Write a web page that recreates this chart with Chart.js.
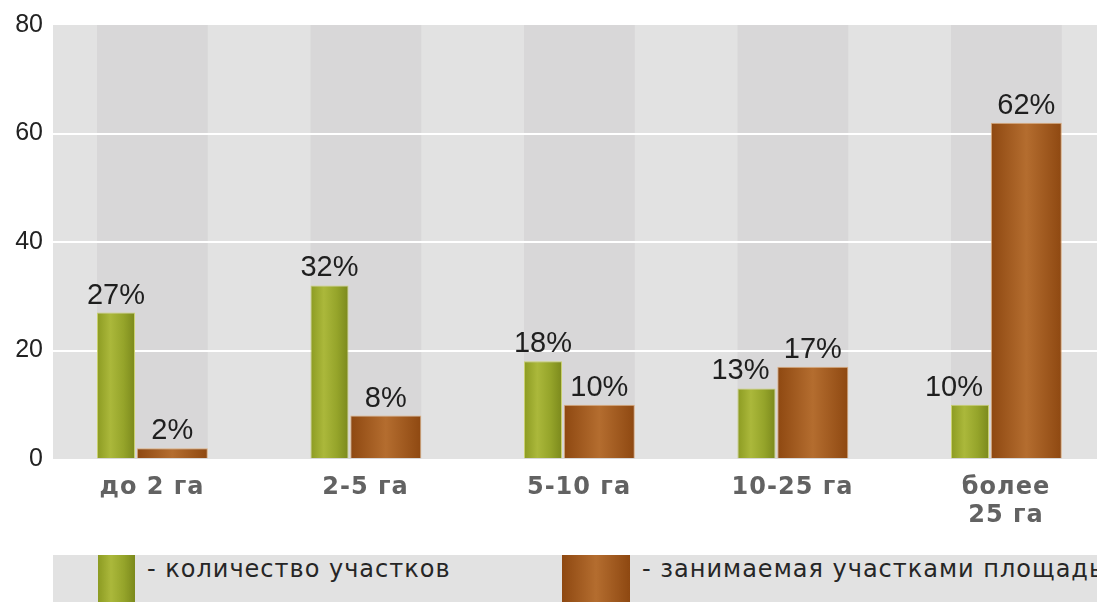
<!DOCTYPE html>
<html>
<head>
<meta charset="utf-8">
<script src="https://cdn.jsdelivr.net/npm/chart.js@4.4.1/dist/chart.umd.min.js"></script>
<style>
  html, body { margin: 0; padding: 0; background: #ffffff; overflow: hidden; }
  #wrap { position: relative; width: 1097px; height: 602px; }
  #legend { position: absolute; left: 53px; top: 555px; width: 1044px; height: 47px; background: #e2e2e2; overflow: hidden; }
  .sw { position: absolute; top: 0; height: 47px; }
  .sw.green { left: 45px; width: 37px; background: linear-gradient(to right, #8c9b22 0%, #abb83b 35%, #95a42a 70%, #7b891c 100%); }
  .sw.orange { left: 509px; width: 68px; background: linear-gradient(to right, #8e4811 0%, #b46d2f 50%, #8e4811 100%); }
  .lt { position: absolute; top: 1px; font-family: "DejaVu Sans", sans-serif; font-size: 24px; line-height: 26px; letter-spacing: 1px; color: #262626; white-space: nowrap; }
</style>
</head>
<body>
<div id="wrap">
  <canvas id="c" width="1097" height="602"></canvas>
  <div id="legend">
    <div class="sw green"></div>
    <div class="lt" id="lt0" style="left:94px"></div>
    <div class="sw orange"></div>
    <div class="lt" id="lt1" style="left:589px"></div>
  </div>
</div>
<script>
// ---- data ----
const categories = ['до 2 га', '2-5 га', '5-10 га', '10-25 га', ['более', '25 га']];
const seriesNames = ['- количество участков', '- занимаемая участками площадь'];
const plotCounts = [27, 32, 18, 13, 10];
const areaShares = [2, 8, 10, 17, 62];
const yTicks = [0, 20, 40, 60, 80];

document.getElementById('lt0').textContent = seriesNames[0];
document.getElementById('lt1').textContent = seriesNames[1];

const toPoints = arr => arr.map((v, i) => ({ x: i, y: v }));

const gradStops = [
  [[0, '#8c9b22'], [0.35, '#abb83b'], [0.7, '#95a42a'], [1, '#7b891c']],
  [[0, '#8e4811'], [0.5, '#b46d2f'], [1, '#8e4811']]
];

const bgPlugin = {
  id: 'bg',
  beforeDraw(chart) {
    const { ctx, chartArea: a } = chart;
    ctx.save();
    ctx.fillStyle = '#e2e2e2';
    ctx.fillRect(a.left, a.top, a.right - a.left, a.bottom - a.top);
    const m0 = chart.getDatasetMeta(0).data, m1 = chart.getDatasetMeta(1).data;
    ctx.fillStyle = '#d8d7d8';
    for (let i = 0; i < m0.length; i++) {
      const l = m0[i].x - m0[i].width / 2;
      const r = m1[i].x + m1[i].width / 2;
      ctx.fillRect(l, a.top, r - l, a.bottom - a.top);
    }
    ctx.restore();
  },
  beforeDatasetDraw(chart, args) {
    const ctx = chart.ctx;
    const stops = gradStops[args.index];
    args.meta.data.forEach(el => {
      const l = el.x - el.width / 2, r = el.x + el.width / 2;
      const g = ctx.createLinearGradient(l, 0, r, 0);
      stops.forEach(s => g.addColorStop(s[0], s[1]));
      el.options = Object.assign({}, el.options, { backgroundColor: g });
    });
  },
  afterDatasetsDraw(chart) {
    const ctx = chart.ctx;
    ctx.save();
    ctx.font = '29px "Liberation Sans", Arial, sans-serif';
    ctx.fillStyle = '#1e1e1e';
    ctx.textBaseline = 'alphabetic';
    [0, 1].forEach(di => {
      const meta = chart.getDatasetMeta(di);
      const vals = chart.data.datasets[di].data;
      meta.data.forEach((el, i) => {
        const v = vals[i].y;
        let x = el.x, align = 'center';
        if (di === 0 && areaShares[i] > plotCounts[i]) {
          align = 'right';
          x = el.x + el.width / 2 - 6;
        }
        ctx.textAlign = align;
        ctx.fillText(v + '%', x, el.y - 9);
      });
    });
    ctx.restore();
  }
};

const chart = new Chart(document.getElementById('c'), {
  type: 'bar',
  data: {
    datasets: [
      {
        label: seriesNames[0],
        data: toPoints(plotCounts),
        backgroundColor: '#a0ae30',
        borderColor: '#c9d070',
        borderWidth: 1,
        categoryPercentage: 0.6745,
        barPercentage: 0.528
      },
      {
        label: seriesNames[1],
        data: toPoints(areaShares),
        backgroundColor: '#a55f22',
        borderColor: '#dcae80',
        borderWidth: 1,
        categoryPercentage: 0.3803,
        barPercentage: 1.749
      }
    ]
  },
  options: {
    responsive: false,
    animation: false,
    events: [],
    layout: { padding: { top: 23, right: 0, left: 0, bottom: 0 } },
    plugins: { legend: { display: false }, tooltip: { enabled: false } },
    scales: {
      x: {
        type: 'linear',
        min: -0.4637,
        max: 4.4262,
        offset: false,
        grid: { display: false },
        border: { display: false },
        afterFit: s => { s.height = 143; },
        ticks: {
          stepSize: 1,
          autoSkip: false,
          includeBounds: false,
          maxRotation: 0,
          padding: 6,
          color: '#626262',
          font: { family: '"DejaVu Sans", sans-serif', size: 24, weight: 'bold', lineHeight: 1.2 },
          callback: v => (Number.isInteger(v) && categories[v] !== undefined) ? categories[v] : ''
        }
      },
      y: {
        min: 0,
        max: 80,
        afterFit: s => { s.width = 53; },
        border: { display: false },
        grid: {
          drawTicks: false,
          lineWidth: 2,
          color: c => (c.tick && c.tick.value > yTicks[0] && c.tick.value < yTicks[yTicks.length - 1]) ? '#ffffff' : 'rgba(0,0,0,0)'
        },
        afterBuildTicks: s => { s.ticks = yTicks.map(v => ({ value: v })); },
        ticks: {
          padding: 10,
          color: '#222222',
          font: { family: '"Liberation Sans", Arial, sans-serif', size: 25 }
        }
      }
    }
  },
  plugins: [bgPlugin]
});

// wider letter spacing for the category labels, as in the original
const xs = chart.scales.x;
const origDrawLabels = xs.drawLabels;
xs.drawLabels = function (area) {
  const c = this.ctx;
  c.save();
  c.letterSpacing = '1px';
  origDrawLabels.call(this, area);
  c.restore();
};
chart.draw();
</script>
</body>
</html>
